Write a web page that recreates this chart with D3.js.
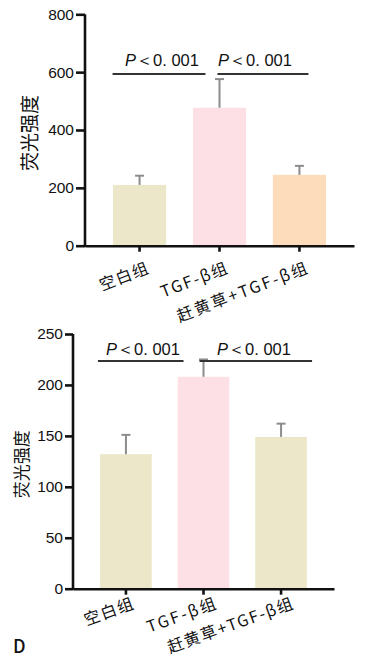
<!DOCTYPE html>
<html>
<head>
<meta charset="utf-8" />
<script src="https://d3js.org/d3.v7.min.js"></script>
<style>
  body { margin: 0; background: #fff; }
  svg { display: block; }
</style>
</head>
<body>
<div id="canvas"></div>
<script>
// 数据
var groups = ["空白组", "TGF-β组", "赶黄草+TGF-β组"];
var topMeans = [210, 477, 245];
var topErr = [32, 99, 31];
var topTicks = [0, 200, 400, 600, 800];
var bottomMeans = [132, 208, 149];
var bottomErr = [19, 17, 13];
var bottomTicks = [0, 50, 100, 150, 200, 250];
var sigText = "＜0. 001";
var topSigY = 594, bottomSigY = 223.5;

var width = 366, height = 660;
var svg = d3.select("#canvas").append("svg")
  .attr("width", width).attr("height", height);

function drawPanel(p) {
  var g = svg.append("g");
  var x = d3.scaleBand().domain(groups)
    .range([p.left, p.right]).paddingInner(0.335).paddingOuter(0.35);
  var y = d3.scaleLinear().domain([0, p.max]).range([p.bottom, p.top]);
  var bw = x.bandwidth();

  // 柱子
  g.selectAll(".bar").data(p.means).enter().append("rect")
    .attr("x", function(d, i){ return x(groups[i]); })
    .attr("y", function(d){ return y(d); })
    .attr("width", bw)
    .attr("height", function(d){ return y(0) - y(d); })
    .attr("fill", function(d, i){ return p.colors[i]; });

  // 误差线
  var eb = g.selectAll(".err").data(p.means).enter().append("g");
  eb.append("line")
    .attr("x1", function(d, i){ return x(groups[i]) + bw / 2; })
    .attr("x2", function(d, i){ return x(groups[i]) + bw / 2; })
    .attr("y1", function(d){ return y(d); })
    .attr("y2", function(d, i){ return y(d + p.err[i]); })
    .attr("stroke", "#8c8c8c").attr("stroke-width", 2);
  eb.append("line")
    .attr("x1", function(d, i){ return x(groups[i]) + bw / 2 - 4.5; })
    .attr("x2", function(d, i){ return x(groups[i]) + bw / 2 + 4.5; })
    .attr("y1", function(d, i){ return y(d + p.err[i]); })
    .attr("y2", function(d, i){ return y(d + p.err[i]); })
    .attr("stroke", "#8c8c8c").attr("stroke-width", 2);

  // 坐标轴
  var ya = g.append("g").attr("transform", "translate(" + p.left + ",0)")
    .call(d3.axisLeft(y).tickValues(p.ticks).tickSize(p.tickLen).tickSizeOuter(0).tickPadding(2));
  var xa = g.append("g").attr("transform", "translate(0," + p.bottom + ")")
    .call(d3.axisBottom(x).tickSize(6).tickSizeOuter(0).tickFormat(""));
  [ya, xa].forEach(function(a){
    a.select(".domain").attr("stroke", "#111").attr("stroke-width", 2.6);
    a.selectAll(".tick line").attr("stroke", "#111").attr("stroke-width", 2.6);
  });
  ya.select(".domain").attr("d", "M0," + (p.bottom + 1.3) + "V" + p.top);
  ya.selectAll(".tick text")
    .attr("font-family", "Liberation Sans, Arial, sans-serif")
    .attr("font-size", p.tickFont).attr("fill", "#111");

  // X 轴标签
  g.selectAll(".xl").data(groups).enter().append("text")
    .attr("text-anchor", "end")
    .attr("font-family", "Noto Sans CJK SC, sans-serif")
    .attr("font-size", 16).attr("fill", "#111")
    .attr("textLength", function(d, i){ return p.labelLen[i]; })
    .attr("lengthAdjust", "spacing")
    .attr("transform", function(d, i){
      return "translate(" + (x(d) + bw / 2 + p.labelDx[i]) + "," + (p.bottom + p.labelDy) + ") rotate(" + p.labelRot + ")";
    })
    .text(function(d){ return d; });

  // Y 轴标题
  g.append("text")
    .attr("text-anchor", "middle")
    .attr("font-family", "Noto Sans CJK SC, sans-serif")
    .attr("font-size", p.titleFont).attr("fill", "#111")
    .attr("transform", "translate(" + p.titleX + "," + ((p.top + p.bottom) / 2 + 3) + ") rotate(-90)")
    .attr("dy", "0.35em")
    .text("荧光强度");

  // 显著性标记
  p.sig.forEach(function(s){
    var x1 = x(groups[s.from]) + bw / 2 + s.d1;
    var x2 = x(groups[s.to]) + bw / 2 + s.d2;
    g.append("line")
      .attr("x1", x1).attr("x2", x2)
      .attr("y1", y(p.sigY)).attr("y2", y(p.sigY))
      .attr("stroke", "#333").attr("stroke-width", 2);
    var t = g.append("text")
      .attr("x", s.tx).attr("y", y(p.sigY) - p.sigGap)
      .attr("text-anchor", "middle")
      .attr("font-family", "Liberation Sans, Arial, sans-serif")
      .attr("font-size", 16.5).attr("fill", "#111");
    t.append("tspan").attr("font-style", "italic").text("P");
    t.append("tspan").text(sigText);
  });
}

drawPanel({
  left: 85, right: 354, top: 14.3, bottom: 245.7, max: 800,
  means: topMeans, err: topErr, ticks: topTicks,
  colors: ["#ebe7c8", "#fde0e5", "#fddcbc"],
  tickFont: 15.5, tickLen: 9, titleFont: 19, titleX: 30,
  labelLen: [51, 70, 138], labelDx: [10, 9, 9], labelDy: 27, labelRot: -21,
  sigY: topSigY, sigGap: 8,
  sig: [{from: 0, to: 1, d1: -27, d2: -14, tx: 162},
        {from: 1, to: 2, d1: -2, d2: 9, tx: 255}]
});

drawPanel({
  left: 73, right: 334, top: 334, bottom: 588.7, max: 250,
  means: bottomMeans, err: bottomErr, ticks: bottomTicks,
  colors: ["#ebe7c8", "#fde0e5", "#ebe7c8"],
  tickFont: 15.5, tickLen: 8, titleFont: 17, titleX: 22,
  labelLen: [51, 72, 132], labelDx: [8.5, 13.5, 13], labelDy: 19.5, labelRot: -20,
  sigY: bottomSigY, sigGap: 6,
  sig: [{from: 0, to: 1, d1: -28, d2: -20, tx: 143},
        {from: 1, to: 2, d1: -4, d2: 31, tx: 254}]
});

svg.append("text")
  .attr("x", 13).attr("y", 653)
  .attr("font-family", "Noto Sans CJK SC, sans-serif")
  .attr("font-size", 18).attr("font-weight", 500).attr("fill", "#111")
  .text("D");
</script>
</body>
</html>
